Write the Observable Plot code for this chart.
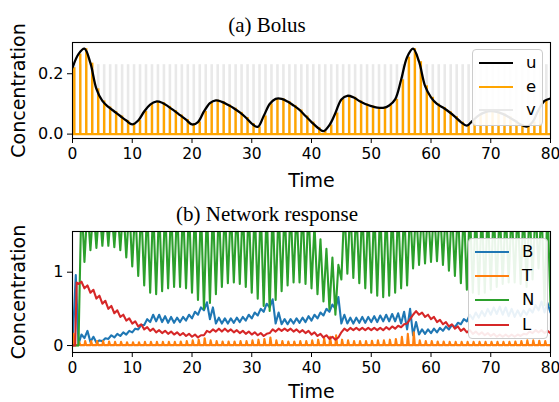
<!DOCTYPE html>
<html><head><meta charset="utf-8">
<script src="https://cdn.jsdelivr.net/npm/d3@7"></script>
<script src="https://cdn.jsdelivr.net/npm/@observablehq/plot@0.6"></script>
<style>
body{margin:0;background:#fff;}
#wrap{position:relative;width:559px;height:402px;overflow:hidden;font-family:"DejaVu Sans",sans-serif;}
#wrap svg{position:absolute;left:0;}
.title{position:absolute;font-family:"Liberation Serif",serif;font-size:21px;transform:translate(-50%,-50%);white-space:nowrap;line-height:1;color:#000;}
.legend{position:absolute;background:rgba(255,255,255,0.9);border:1px solid #cccccc;border-radius:4px;box-sizing:border-box;}
.sw{position:absolute;height:2px;width:34px;}
.lab{position:absolute;font-size:16.5px;line-height:1;transform:translateY(-50%);color:#000;}
</style></head>
<body><div id="wrap"></div>
<script>
// ---------- data ----------
const xTicks = [0,10,20,30,40,50,60,70,80];
const yTicksTop = [0,0.2];
const yTicksBottom = [0,1];
// u sampled at t = 0..80
const uVals = [0.22,0.265,0.283,0.235,0.15,0.11,0.09,0.075,0.06,0.045,
  0.032,0.045,0.075,0.098,0.108,0.104,0.092,0.078,0.063,0.048,
  0.032,0.04,0.075,0.103,0.112,0.107,0.097,0.086,0.072,0.055,
  0.035,0.024,0.06,0.1,0.117,0.117,0.108,0.095,0.08,0.06,
  0.04,0.022,0.01,0.03,0.07,0.115,0.127,0.122,0.11,0.1,
  0.093,0.088,0.087,0.095,0.115,0.18,0.255,0.283,0.24,0.16,
  0.122,0.1,0.088,0.074,0.058,0.04,0.028,0.045,0.062,0.072,
  0.076,0.074,0.067,0.057,0.045,0.032,0.025,0.04,0.08,0.11,0.118];
const vLevel = 0.23;
const doseTimes = d3.range(0,80);

// network response: per-dose-cycle troughs/peaks, cycles k = 1..79
const B_start = [[0,0],[0.55,0.96]];
const B_lo = [0.02,0.1,0.05,0.04,0.06,0.09,0.11,0.13,0.15,0.18,
  0.22,0.28,0.32,0.33,0.32,0.31,0.31,0.32,0.34,0.37,
  0.42,0.48,0.36,0.3,0.3,0.3,0.31,0.32,0.34,0.37,
  0.41,0.46,0.52,0.3,0.29,0.29,0.3,0.31,0.32,0.34,
  0.37,0.41,0.46,0.5,0.3,0.3,0.3,0.31,0.31,0.32,
  0.32,0.33,0.33,0.33,0.3,0.22,0.14,0.15,0.16,0.17,
  0.18,0.2,0.22,0.25,0.29,0.33,0.36,0.38,0.4,0.42,
  0.43,0.42,0.4,0.39,0.4,0.42,0.45,0.48,0.45];
const B_hi = [0.15,0.2,0.12,0.07,0.1,0.14,0.16,0.18,0.2,0.23,
  0.28,0.36,0.42,0.42,0.4,0.39,0.38,0.39,0.42,0.46,
  0.52,0.59,0.52,0.38,0.37,0.37,0.38,0.39,0.42,0.45,
  0.5,0.57,0.63,0.45,0.36,0.36,0.37,0.38,0.4,0.42,
  0.45,0.5,0.56,0.66,0.42,0.38,0.38,0.39,0.39,0.4,
  0.41,0.42,0.43,0.44,0.46,0.5,0.32,0.22,0.22,0.23,
  0.24,0.26,0.28,0.31,0.36,0.42,0.45,0.47,0.5,0.52,
  0.53,0.52,0.5,0.48,0.48,0.5,0.55,0.6,0.58];
const T_start = [[0,0],[0.2,0.16],[0.4,0.005]];
const T_base = 0.005;
const T_peak = [0.05,0.06,0.06,0.06,0.06,0.055,0.05,0.05,0.045,0.045,
  0.045,0.05,0.05,0.05,0.05,0.05,0.05,0.055,0.06,0.07,
  0.08,0.1,0.07,0.06,0.055,0.055,0.055,0.06,0.06,0.07,
  0.08,0.09,0.11,0.07,0.06,0.055,0.055,0.06,0.06,0.07,
  0.08,0.1,0.12,0.14,0.08,0.07,0.06,0.06,0.06,0.065,
  0.07,0.07,0.08,0.09,0.12,0.16,0.18,0.07,0.06,0.06,
  0.055,0.055,0.05,0.05,0.05,0.05,0.05,0.05,0.05,0.05,
  0.05,0.05,0.05,0.055,0.06,0.07,0.07,0.065,0.06];
const N_start = [[0,0]];
const N_lo = [0.0,1.14,1.3,1.33,1.36,1.36,1.34,1.3,1.2,1.08,
  0.95,0.82,0.72,0.7,0.74,0.78,0.8,0.8,0.78,0.72,
  0.62,0.5,0.58,0.7,0.8,0.85,0.86,0.84,0.8,0.72,
  0.64,0.54,0.47,0.62,0.74,0.82,0.86,0.86,0.84,0.78,
  0.7,0.6,0.5,0.42,0.9,0.98,0.92,0.85,0.78,0.72,
  0.68,0.66,0.68,0.72,0.78,0.82,1.05,1.1,1.12,1.14,
  1.15,1.1,1.02,0.95,0.85,0.76,0.72,0.7,0.72,0.76,
  0.8,0.84,0.86,0.86,0.84,0.8,0.9,1.05,0.55];
const N_hi = [2.0,1.9,1.9,1.9,1.9,1.9,1.9,1.9,1.9,1.9,
  1.9,1.9,1.9,1.9,1.9,1.9,1.9,1.9,1.9,1.9,
  1.9,1.9,1.9,1.9,1.9,1.9,1.9,1.9,1.9,1.9,
  1.9,1.9,1.9,1.9,1.9,1.9,1.9,1.9,1.9,1.65,
  1.45,1.32,1.2,1.1,1.9,1.9,1.9,1.9,1.9,1.9,
  1.9,1.9,1.9,1.9,1.9,1.9,1.9,1.9,1.9,1.9,
  1.9,1.9,1.9,1.9,1.9,1.9,1.9,1.9,1.9,1.9,
  1.9,1.9,1.9,1.9,1.9,1.9,1.9,1.9,1.9];
const L_start = [[0,0],[0.45,0.0],[0.7,0.86]];
const L_lo = [0.84,0.78,0.72,0.64,0.57,0.5,0.44,0.39,0.34,0.3,
  0.26,0.22,0.2,0.18,0.17,0.16,0.15,0.14,0.13,0.12,
  0.11,0.14,0.18,0.19,0.19,0.19,0.18,0.17,0.16,0.15,
  0.14,0.13,0.17,0.19,0.2,0.2,0.19,0.18,0.17,0.15,
  0.13,0.11,0.09,0.08,0.18,0.2,0.21,0.21,0.21,0.21,
  0.21,0.21,0.22,0.23,0.25,0.3,0.42,0.42,0.39,0.36,
  0.32,0.29,0.26,0.23,0.2,0.18,0.16,0.15,0.14,0.13,
  0.12,0.12,0.12,0.12,0.13,0.15,0.17,0.18,0.17];
const L_hi = [0.87,0.82,0.76,0.68,0.61,0.54,0.48,0.42,0.37,0.33,
  0.29,0.25,0.23,0.21,0.2,0.19,0.18,0.17,0.16,0.15,
  0.14,0.2,0.22,0.23,0.23,0.22,0.21,0.2,0.19,0.18,
  0.17,0.16,0.22,0.23,0.23,0.23,0.22,0.21,0.2,0.18,
  0.16,0.14,0.12,0.11,0.23,0.24,0.24,0.24,0.24,0.24,
  0.24,0.25,0.26,0.27,0.29,0.36,0.47,0.45,0.42,0.39,
  0.35,0.32,0.29,0.26,0.23,0.21,0.19,0.18,0.17,0.16,
  0.15,0.15,0.15,0.15,0.16,0.19,0.21,0.21,0.2];

// ---------- build tables ----------
const uData = uVals.map((u,t)=>({t,u}));
const ePulses = doseTimes.map(k=>({t:k+0.3, u:uVals[k]}));
function zigzag(start, lo, hi){
  const pts = start.map(([t,v])=>({t,v}));
  lo.forEach((l,i)=>{const k=i+1; pts.push({t:k,v:l}); pts.push({t:k+0.5,v:hi[i]});});
  pts.push({t:80,v:lo[lo.length-1]});
  return pts;
}
function spikes(start, base, peaks){
  const pts = start.map(([t,v])=>({t,v}));
  peaks.forEach((p,i)=>{const k=i+1; pts.push({t:k,v:base}); pts.push({t:k+0.12,v:p}); pts.push({t:k+0.3,v:base});});
  pts.push({t:80,v:base});
  return pts;
}
const series = [
  {name:"B", color:"#1f77b4", pts:zigzag(B_start,B_lo,B_hi)},
  {name:"T", color:"#ff7f0e", pts:spikes(T_start,T_base,T_peak)},
  {name:"N", color:"#2ca02c", pts:zigzag(N_start,N_lo,N_hi)},
  {name:"L", color:"#d62728", pts:zigzag(L_start,L_lo,L_hi)}
];

// ---------- plots ----------
const wrap = document.getElementById("wrap");
const style = {fontFamily:"DejaVu Sans", fontSize:"15.5px", color:"black", background:"transparent", overflow:"visible"};
function axes(yTicks, yFmt, labelDy){
  return [
    Plot.frame({stroke:"black", strokeWidth:1.1}),
    Plot.axisX({ticks:xTicks, tickSize:5, tickPadding:4, label:null, tickFormat:d=>String(d), fontSize:15.5}),
    Plot.axisY({ticks:yTicks, tickSize:5, tickPadding:4, label:null, tickFormat:yFmt, fontSize:16}),
    Plot.text(["Time"], {text:d=>d, frameAnchor:"bottom", lineAnchor:"middle", textAnchor:"middle", dy:labelDy, fontSize:19}),
    Plot.text(["Concentration"], {text:d=>d, frameAnchor:"left", textAnchor:"middle", lineAnchor:"middle", dx:-54, rotate:-90, fontSize:19})
  ];
}
const topPlot = Plot.plot({
  width:559, height:200, marginLeft:72, marginRight:9, marginTop:42, marginBottom:62,
  x:{domain:[0,80]}, y:{domain:[-0.0145,0.3035]}, style,
  marks:[
    Plot.ruleX(doseTimes, {x:d=>d+0.3, y1:0, y2:vLevel, stroke:"#e9e9e9", strokeWidth:2.6}),
    Plot.ruleX(ePulses, {x:"t", y1:0, y2:"u", stroke:"orange", strokeWidth:2.4}),
    Plot.ruleY([0], {stroke:"orange", strokeWidth:2.2}),
    Plot.line(uData, {x:"t", y:"u", curve:"catmull-rom", stroke:"black", strokeWidth:2.3, clip:true}),
    ...axes(yTicksTop, d3.format(".1f"), 42)
  ]
});
topPlot.style.top = "0px";
wrap.appendChild(topPlot);

const botPlot = Plot.plot({
  width:559, height:202, marginLeft:72, marginRight:9, marginTop:31, marginBottom:50,
  x:{domain:[0,80]}, y:{domain:[-0.095,1.555]}, style,
  marks:[
    ...series.map(s=>Plot.line(s.pts, {x:"t", y:"v", stroke:s.color, strokeWidth:2.1, clip:true})),
    ...axes(yTicksBottom, d=>String(d), 39)
  ]
});
botPlot.style.top = "200px";
wrap.appendChild(botPlot);

// ---------- titles ----------
function addTitle(txt, x, y){
  const d=document.createElement("div"); d.className="title"; d.textContent=txt;
  d.style.left=x+"px"; d.style.top=y+"px"; wrap.appendChild(d);
}
addTitle("(a) Bolus", 267, 25);
addTitle("(b) Network response", 267, 214);

// ---------- legends ----------
function addLegend(items, left, top, w, h, sx, lx, y0, dy){
  const box=document.createElement("div"); box.className="legend";
  Object.assign(box.style,{left:left+"px",top:top+"px",width:w+"px",height:h+"px"});
  items.forEach((it,i)=>{
    const sw=document.createElement("div"); sw.className="sw";
    Object.assign(sw.style,{left:sx+"px",top:(y0+i*dy-1)+"px",background:it.color});
    const lb=document.createElement("div"); lb.className="lab"; lb.textContent=it.name;
    Object.assign(lb.style,{left:lx+"px",top:(y0+i*dy)+"px"});
    box.appendChild(sw); box.appendChild(lb);
  });
  wrap.appendChild(box);
}
addLegend([{name:"u",color:"black"},{name:"e",color:"orange"},{name:"v",color:"#e9e9e9"}], 472, 49, 71, 77, 6, 53, 13, 23.7);
addLegend(series, 468, 238, 80, 101, 6, 53, 13, 24.2);
</script>
</body></html>
